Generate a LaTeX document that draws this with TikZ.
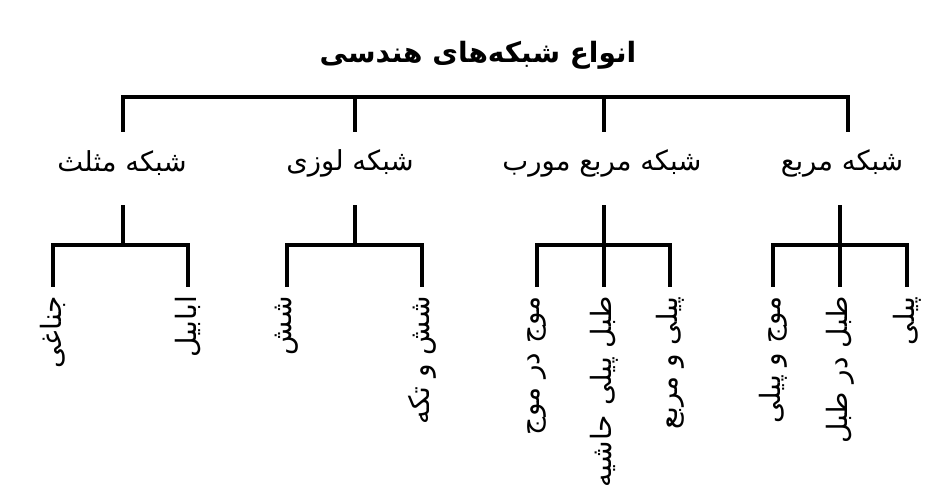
\documentclass[tikz,border=0pt]{standalone}
\usepackage{fontspec}
\TeXXeTstate=1
\newfontfamily\arabicfont[Script=Arabic]{DejaVu Sans}
\newcommand{\fa}[1]{\arabicfont\beginR #1\endR}
\begin{document}
\begin{tikzpicture}[x=1pt,y=-1pt,
  bar/.style={line width=3.5pt, line join=miter, line cap=rect},
  titlestyle/.style={font=\arabicfont\bfseries\fontsize{28}{32}\selectfont, inner sep=0pt},
  childstyle/.style={font=\arabicfont\fontsize{27.5}{32}\selectfont, inner sep=0pt},
  leafstyle/.style={rotate=90, anchor=east, font=\arabicfont\fontsize{28}{32}\selectfont, inner sep=0pt}]
\useasboundingbox (0,0) rectangle (942,498);
\fill[white] (0,0) rectangle (942,498);

% title
\node[titlestyle] (title) at (478,55) {\fa{انواع شبکه‌های هندسی}};

% children
\node[childstyle] (c1) at (122,163) {\fa{شبکه مثلث}};
\node[childstyle] (c2) at (350,163) {\fa{شبکه لوزی}};
\node[childstyle] (c3) at (602,163) {\fa{شبکه مربع مورب}};
\node[childstyle] (c4) at (842,163) {\fa{شبکه مربع}};

% top bus
\coordinate (T1) at (123,97);  \coordinate (T1d) at (123,130);
\coordinate (T2) at (355,97);  \coordinate (T2d) at (355,130);
\coordinate (T3) at (604,97);  \coordinate (T3d) at (604,130);
\coordinate (T4) at (848,97);  \coordinate (T4d) at (848,130);
\draw[bar] (T1d) -- (T1) -- (T4) -- (T4d);
\draw[bar] (T2) -- (T2d);
\draw[bar] (T3) -- (T3d);

% leaves
\node[leafstyle] (l11) at (53,296)  {\fa{جناغی}};
\node[leafstyle] (l12) at (188,296) {\fa{ابابیل}};
\node[leafstyle] (l21) at (287,296) {\fa{شش}};
\node[leafstyle] (l22) at (422,296) {\fa{شش و تکه}};
\node[leafstyle] (l31) at (537,296) {\fa{موج در موج}};
\node[leafstyle] (l32) at (604,296) {\fa{طبل پیلی حاشیه}};
\node[leafstyle] (l33) at (670,296) {\fa{پیلی و مربع}};
\node[leafstyle] (l41) at (773,296) {\fa{موج و پیلی}};
\node[leafstyle] (l42) at (840,296) {\fa{طبل در طبل}};
\node[leafstyle] (l43) at (907,296) {\fa{پیلی}};

% lower connectors
\coordinate (S1) at (123,207); \coordinate (S1j) at (123,245);
\coordinate (S2) at (355,207); \coordinate (S2j) at (355,245);
\coordinate (S3) at (604,207); \coordinate (S3j) at (604,245);
\coordinate (S4) at (840,207); \coordinate (S4j) at (840,245);

\coordinate (A11) at (53,245);  \coordinate (A11d) at (53,285);
\coordinate (A12) at (188,245); \coordinate (A12d) at (188,285);
\coordinate (A21) at (287,245); \coordinate (A21d) at (287,285);
\coordinate (A22) at (422,245); \coordinate (A22d) at (422,285);
\coordinate (A31) at (537,245); \coordinate (A31d) at (537,285);
\coordinate (A32d) at (604,285);
\coordinate (A33) at (670,245); \coordinate (A33d) at (670,285);
\coordinate (A41) at (773,245); \coordinate (A41d) at (773,285);
\coordinate (A42d) at (840,285);
\coordinate (A43) at (907,245); \coordinate (A43d) at (907,285);

\draw[bar] (S1) -- (S1j);
\draw[bar] (A11d) -- (A11) -- (A12) -- (A12d);
\draw[bar] (S2) -- (S2j);
\draw[bar] (A21d) -- (A21) -- (A22) -- (A22d);
\draw[bar] (S3) -- (A32d);
\draw[bar] (A31d) -- (A31) -- (A33) -- (A33d);
\draw[bar] (S4) -- (A42d);
\draw[bar] (A41d) -- (A41) -- (A43) -- (A43d);
\end{tikzpicture}
\end{document}
